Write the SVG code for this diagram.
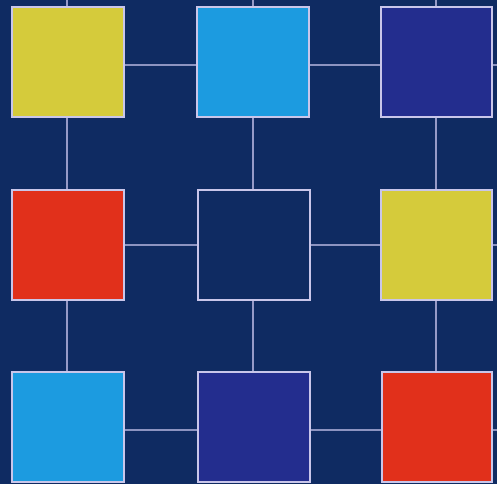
<svg xmlns="http://www.w3.org/2000/svg" width="497" height="484" viewBox="0 0 497 484">
<style>
.n{stroke:#c9c6ea;stroke-width:2}
.c line{stroke:#b9b8e2;stroke-width:1.6}
.y{fill:#d5cb3b}.b{fill:#1c9be0}.i{fill:#232d8e}.r{fill:#e1301b}.d{fill:#0f2b62}
</style>
<rect width="497" height="484" fill="#0f2b62"/>
<g class="c">
<line x1="67" y1="0" x2="67" y2="372"/>
<line x1="253" y1="0" x2="253" y2="372"/>
<line x1="436" y1="0" x2="436" y2="372"/>
<line x1="124" y1="65" x2="497" y2="65"/>
<line x1="124" y1="245" x2="497" y2="245"/>
<line x1="124" y1="430" x2="497" y2="430"/>
</g>
<g id="n1"><rect class="n y" x="12" y="7" width="112" height="110"/></g>
<g id="n2"><rect class="n b" x="197" y="7" width="112" height="110"/></g>
<g id="n3"><rect class="n i" x="381" y="7" width="111" height="110"/></g>
<g id="n4"><rect class="n r" x="12" y="190" width="112" height="110"/></g>
<g id="n5"><rect class="n d" x="198" y="190" width="112" height="110"/></g>
<g id="n6"><rect class="n y" x="381" y="190" width="111" height="110"/></g>
<g id="n7"><rect class="n b" x="12" y="372" width="112" height="110"/></g>
<g id="n8"><rect class="n i" x="198" y="372" width="112" height="110"/></g>
<g id="n9"><rect class="n r" x="382" y="372" width="110" height="110"/></g>
</svg>
